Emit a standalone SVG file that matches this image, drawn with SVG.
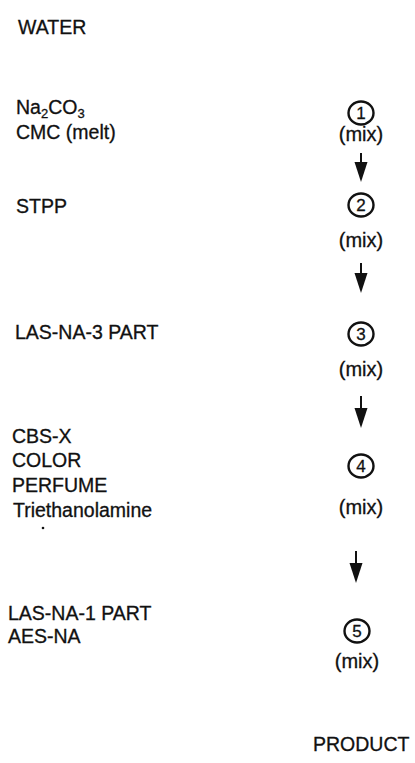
<svg xmlns="http://www.w3.org/2000/svg" width="415" height="763" viewBox="0 0 415 763">
<defs>
<style>
text{font-family:"Liberation Sans",Arial,sans-serif;font-size:19.5px;fill:#111;stroke:#111;stroke-width:0.3}
.num{font-size:17px;text-anchor:middle}
.mix{text-anchor:middle;font-size:20px}
.sub{font-size:13px}
ellipse{fill:none;stroke:#111;stroke-width:2.4}
.arr line{stroke:#111;stroke-width:2}
.arr polygon{fill:#111}
</style>
</defs>
<rect width="415" height="763" fill="#fff"/>
<g id="inputs">
<text id="water" x="18" y="34">WATER</text>
<text id="na2co3" x="16" y="114">Na<tspan class="sub" dy="4">2</tspan><tspan dy="-4">CO</tspan><tspan class="sub" dy="4">3</tspan></text>
<text id="cmc" x="16" y="139">CMC (melt)</text>
<text id="stpp" x="16" y="213">STPP</text>
<text id="las3" x="15" y="339">LAS-NA-3 PART</text>
<text id="cbsx" x="12" y="443">CBS-X</text>
<text id="color" x="12" y="467">COLOR</text>
<text id="perfume" x="12" y="492">PERFUME</text>
<text id="tea" x="13" y="517">Triethanolamine</text>
<circle cx="43" cy="528" r="1.3" fill="#111"/>
<text id="las1" x="8" y="620">LAS-NA-1 PART</text>
<text id="aes" x="8" y="643">AES-NA</text>
</g>
<g id="step1">
<ellipse cx="361" cy="113" rx="12.5" ry="11.5"/>
<text class="num" x="361" y="119">1</text>
<text class="mix" x="361" y="141">(mix)</text>
</g>
<g id="step2">
<ellipse cx="361" cy="205" rx="12.5" ry="11.5"/>
<text class="num" x="361" y="211">2</text>
<text class="mix" x="361" y="247">(mix)</text>
</g>
<g id="step3">
<ellipse cx="361" cy="334" rx="12.5" ry="11.5"/>
<text class="num" x="361" y="340">3</text>
<text class="mix" x="361" y="376">(mix)</text>
</g>
<g id="step4">
<ellipse cx="361" cy="466" rx="12.5" ry="11.5"/>
<text class="num" x="361" y="472">4</text>
<text class="mix" x="361" y="514">(mix)</text>
</g>
<g id="step5">
<ellipse cx="357" cy="631" rx="12.5" ry="11.5"/>
<text class="num" x="357" y="637">5</text>
<text class="mix" x="357" y="668">(mix)</text>
</g>
<g id="product">
<text x="313" y="751">PRODUCT</text>
</g>
<g id="connectors" class="arr">
<line x1="361" y1="153" x2="361" y2="164"/>
<polygon points="354.5,162 367.5,162 361,182"/>
<line x1="361" y1="263" x2="361" y2="275"/>
<polygon points="354.5,273 367.5,273 361,293"/>
<line x1="361" y1="396" x2="361" y2="410"/>
<polygon points="354.5,408 367.5,408 361,428"/>
<line x1="356" y1="551" x2="356" y2="565"/>
<polygon points="349.5,563 362.5,563 356,583"/>
</g>
</svg>
